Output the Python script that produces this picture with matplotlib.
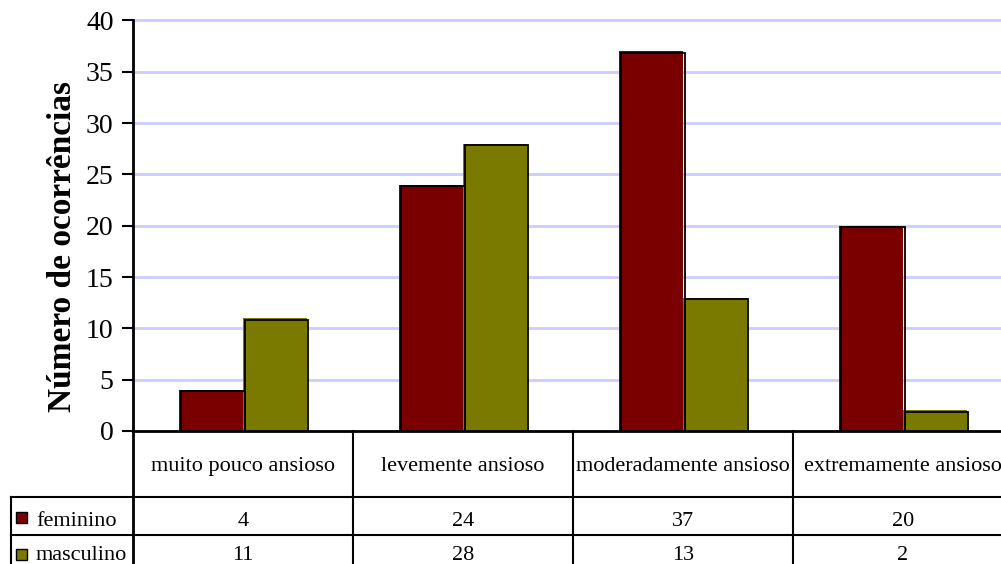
import matplotlib
matplotlib.use("Agg")
import matplotlib.pyplot as plt
from matplotlib.patches import Rectangle
from matplotlib.lines import Line2D
from matplotlib import transforms
import numpy as np

categories = ["muito pouco ansioso", "levemente ansioso",
              "moderadamente ansioso", "extremamente ansioso"]
series_names = ["feminino", "masculino"]
feminino = [4, 24, 37, 20]
masculino = [11, 28, 13, 2]
y_ticks = [0, 5, 10, 15, 20, 25, 30, 35, 40]

colors = ["#7A0000", "#7A7A00"]
grid_color = "#CCCCFF"
plt.rcParams["font.family"] = ["Liberation Serif", "DejaVu Serif"]

fig = plt.figure(figsize=(10.01, 5.64), dpi=100)
# plot area: left spine at x=133 px, baseline at y=431 px, top at 20.5 px
W, H = 1001, 564
left, right = 133 / W, 1013 / W
bottom, top = (H - 431) / H, (H - 20.5) / H
ax = fig.add_axes([left, bottom, right - left, top - bottom])

x = np.arange(len(categories))
bw = 0.29
series = [feminino, masculino]
for i, (vals, col) in enumerate(zip(series, colors)):
    offs = (i - 0.5) * bw
    bars = ax.bar(x + offs, vals, bw, color=col, linewidth=0, zorder=2)
    # dark outline drawn slightly shifted, giving the bars a raised look
    shift = transforms.offset_copy(ax.transData, fig=fig, x=1.5, y=-1.5, units="dots")
    for p in bars.patches:
        r = Rectangle(p.get_xy(), p.get_width(), p.get_height(), fill=False,
                      edgecolor="black", linewidth=1.3, transform=shift, zorder=3)
        ax.add_patch(r)

ax.set_xlim(-0.5, len(categories) - 0.5)
ax.set_ylim(0, 40)
ax.set_yticks(y_ticks)
ax.set_xticks([])
ax.yaxis.grid(True, color=grid_color, linewidth=2)
for gl in ax.yaxis.get_gridlines():
    gl.set_clip_on(False)
ax.set_axisbelow(True)
for s in ["top", "right"]:
    ax.spines[s].set_visible(False)
for s in ["left", "bottom"]:
    ax.spines[s].set_linewidth(2)
    ax.spines[s].set_color("black")
    ax.spines[s].set_zorder(4)
ax.tick_params(axis="y", length=8, width=1.5, direction="out", pad=6, labelsize=20)

ax_h = 410.5  # axes height in px
ax_w = 880.0
def fy(py):
    return -(py - 431) / ax_h
def fx(px):
    return (px - 133) / ax_w

ax.set_ylabel("Número de ocorrências", fontsize=24, fontweight="bold")
ax.yaxis.set_label_coords(fx(78), fy(246.5))

# ---- data table below the plot area ----
blend = transforms.blended_transform_factory(ax.transData, ax.transAxes)
lw = 1.5
row_lines = [497, 534.5]
for py in row_lines:
    ax.add_line(Line2D([fx(10.7), 1.05], [fy(py)] * 2, transform=ax.transAxes,
                       color="black", lw=lw, clip_on=False))
for b in x[:-1] + 0.5:
    ax.add_line(Line2D([b, b], [0, fy(600)], transform=blend,
                       color="black", lw=lw, clip_on=False))
ax.add_line(Line2D([0, 0], [0, fy(600)], transform=ax.transAxes,
                   color="black", lw=2, clip_on=False))
ax.add_line(Line2D([fx(10.7)] * 2, [fy(497), fy(600)], transform=ax.transAxes,
                   color="black", lw=lw, clip_on=False))

fs = 16
for xi, cat in zip(x, categories):
    ax.text(xi, fy(471), cat, transform=blend, ha="center", va="baseline",
            fontsize=fs, clip_on=False)

row_baselines = [526, 559.5]
key_centers = [517.5, 554.5]
for name, vals, col, by, ky in zip(series_names, series, colors, row_baselines, key_centers):
    ax.add_patch(Rectangle((fx(16), fy(ky) - 5.5 / ax_h), 11.5 / ax_w, 11 / ax_h,
                           transform=ax.transAxes, facecolor=col,
                           edgecolor="black", lw=1, clip_on=False))
    ax.text(fx(36), fy(by), name, transform=ax.transAxes, ha="left",
            va="baseline", fontsize=fs, clip_on=False)
    for xi, v in zip(x, vals):
        ax.text(xi, fy(by), str(v), transform=blend, ha="center", va="baseline",
                fontsize=fs, clip_on=False)

fig.savefig("out.png", dpi=100)
